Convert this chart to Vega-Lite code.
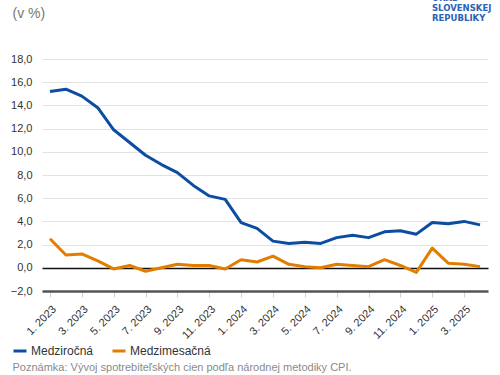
{
  "$schema": "https://vega.github.io/schema/vega-lite/v6.json",
  "width": 446,
  "height": 232,
  "autosize": {"type": "none"},
  "padding": {"left": 42, "top": 59, "right": 12, "bottom": 84},
  "background": "white",
  "title": {
    "text": ["ÚRAD", "SLOVENSKEJ", "REPUBLIKY"],
    "anchor": "end",
    "align": "left",
    "dx": -56,
    "offset": -25,
    "baseline": "bottom",
    "font": "DejaVu Sans",
    "fontSize": 8.5,
    "fontWeight": "bold",
    "lineHeight": 10,
    "color": "#2a62b5"
  },
  "data": {
    "values": [
      {"m": "1. 2023", "s": "Medziročná", "v": 15.2},
      {"m": "2. 2023", "s": "Medziročná", "v": 15.4},
      {"m": "3. 2023", "s": "Medziročná", "v": 14.8},
      {"m": "4. 2023", "s": "Medziročná", "v": 13.8},
      {"m": "5. 2023", "s": "Medziročná", "v": 11.9},
      {"m": "6. 2023", "s": "Medziročná", "v": 10.8},
      {"m": "7. 2023", "s": "Medziročná", "v": 9.7},
      {"m": "8. 2023", "s": "Medziročná", "v": 8.9},
      {"m": "9. 2023", "s": "Medziročná", "v": 8.2},
      {"m": "10. 2023", "s": "Medziročná", "v": 7.1},
      {"m": "11. 2023", "s": "Medziročná", "v": 6.2},
      {"m": "12. 2023", "s": "Medziročná", "v": 5.9},
      {"m": "1. 2024", "s": "Medziročná", "v": 3.9},
      {"m": "2. 2024", "s": "Medziročná", "v": 3.4},
      {"m": "3. 2024", "s": "Medziročná", "v": 2.3},
      {"m": "4. 2024", "s": "Medziročná", "v": 2.1},
      {"m": "5. 2024", "s": "Medziročná", "v": 2.2},
      {"m": "6. 2024", "s": "Medziročná", "v": 2.1},
      {"m": "7. 2024", "s": "Medziročná", "v": 2.6},
      {"m": "8. 2024", "s": "Medziročná", "v": 2.8},
      {"m": "9. 2024", "s": "Medziročná", "v": 2.6},
      {"m": "10. 2024", "s": "Medziročná", "v": 3.1},
      {"m": "11. 2024", "s": "Medziročná", "v": 3.2},
      {"m": "12. 2024", "s": "Medziročná", "v": 2.9},
      {"m": "1. 2025", "s": "Medziročná", "v": 3.9},
      {"m": "2. 2025", "s": "Medziročná", "v": 3.8},
      {"m": "3. 2025", "s": "Medziročná", "v": 4.0},
      {"m": "4. 2025", "s": "Medziročná", "v": 3.7},
      {"m": "1. 2023", "s": "Medzimesačná", "v": 2.5},
      {"m": "2. 2023", "s": "Medzimesačná", "v": 1.1},
      {"m": "3. 2023", "s": "Medzimesačná", "v": 1.2},
      {"m": "4. 2023", "s": "Medzimesačná", "v": 0.6},
      {"m": "5. 2023", "s": "Medzimesačná", "v": -0.1},
      {"m": "6. 2023", "s": "Medzimesačná", "v": 0.2},
      {"m": "7. 2023", "s": "Medzimesačná", "v": -0.3},
      {"m": "8. 2023", "s": "Medzimesačná", "v": 0.0},
      {"m": "9. 2023", "s": "Medzimesačná", "v": 0.3},
      {"m": "10. 2023", "s": "Medzimesačná", "v": 0.2},
      {"m": "11. 2023", "s": "Medzimesačná", "v": 0.2},
      {"m": "12. 2023", "s": "Medzimesačná", "v": -0.1},
      {"m": "1. 2024", "s": "Medzimesačná", "v": 0.7},
      {"m": "2. 2024", "s": "Medzimesačná", "v": 0.5},
      {"m": "3. 2024", "s": "Medzimesačná", "v": 1.0},
      {"m": "4. 2024", "s": "Medzimesačná", "v": 0.3},
      {"m": "5. 2024", "s": "Medzimesačná", "v": 0.1},
      {"m": "6. 2024", "s": "Medzimesačná", "v": 0.0},
      {"m": "7. 2024", "s": "Medzimesačná", "v": 0.3},
      {"m": "8. 2024", "s": "Medzimesačná", "v": 0.2},
      {"m": "9. 2024", "s": "Medzimesačná", "v": 0.1},
      {"m": "10. 2024", "s": "Medzimesačná", "v": 0.7},
      {"m": "11. 2024", "s": "Medzimesačná", "v": 0.2},
      {"m": "12. 2024", "s": "Medzimesačná", "v": -0.4},
      {"m": "1. 2025", "s": "Medzimesačná", "v": 1.7},
      {"m": "2. 2025", "s": "Medzimesačná", "v": 0.4},
      {"m": "3. 2025", "s": "Medzimesačná", "v": 0.3},
      {"m": "4. 2025", "s": "Medzimesačná", "v": 0.1}
    ]
  },
  "mark": {"type": "line", "strokeWidth": 3, "strokeJoin": "round"},
  "encoding": {
    "x": {
      "field": "m",
      "type": "ordinal",
      "sort": null,
      "scale": {"type": "point", "padding": 0.5},
      "axis": {
        "values": ["1. 2023", "3. 2023", "5. 2023", "7. 2023", "9. 2023", "11. 2023", "1. 2024", "3. 2024", "5. 2024", "7. 2024", "9. 2024", "11. 2024", "1. 2025", "3. 2025"],
        "labelAngle": -45,
        "labelAlign": "right",
        "labelBaseline": "top",
        "labelPadding": 6,
        "labelFontSize": 11,
        "labelColor": "#333333",
        "labelOverlap": false,
        "domainColor": "#555555",
        "domainWidth": 2.5,
        "ticks": true,
        "tickColor": "#d0d0d0",
        "tickSize": 6,
        "tickWidth": 1,
        "grid": false,
        "title": "Poznámka: Vývoj spotrebiteľských cien podľa národnej metodiky CPI.",
        "titleAnchor": "start",
        "titleAlign": "left",
        "titleBaseline": "middle",
        "titleX": -30,
        "titleY": 76,
        "titleFontSize": 11,
        "titleFontWeight": "normal",
        "titleColor": "#8a8a8a"
      }
    },
    "y": {
      "field": "v",
      "type": "quantitative",
      "scale": {"domain": [-2, 18], "nice": false, "zero": false},
      "axis": {
        "values": [-2, 0, 2, 4, 6, 8, 10, 12, 14, 16, 18],
        "labelExpr": "replace(format(datum.value, '.1f'), '.', ',')",
        "labelOverlap": false,
        "labelFontSize": 11,
        "labelColor": "#333333",
        "labelPadding": 10,
        "domain": false,
        "ticks": false,
        "grid": true,
        "gridColor": {"condition": {"test": "datum.value === 0", "value": "#111111"}, "value": "#e3e3e3"},
        "gridWidth": {"condition": {"test": "datum.value === 0", "value": 1.5}, "value": 1},
        "title": "(v %)",
        "titleAngle": 0,
        "titleAlign": "left",
        "titleBaseline": "middle",
        "titleX": -30,
        "titleY": -46,
        "titleFontSize": 14,
        "titleFontWeight": "normal",
        "titleColor": "#777777"
      }
    },
    "color": {
      "field": "s",
      "type": "nominal",
      "scale": {"domain": ["Medziročná", "Medzimesačná"], "range": ["#0c4da2", "#e37d00"]},
      "legend": {
        "title": null,
        "orient": "none",
        "direction": "horizontal",
        "legendX": -30,
        "legendY": 284,
        "symbolType": "stroke",
        "symbolSize": 169,
        "symbolStrokeWidth": 3,
        "labelFontSize": 12,
        "labelColor": "#333333",
        "labelOffset": 3,
        "columnPadding": 12
      }
    }
  },
  "config": {
    "font": "Liberation Sans",
    "view": {"stroke": null},
    "axisY": {"labelOverlap": false}
  }
}
